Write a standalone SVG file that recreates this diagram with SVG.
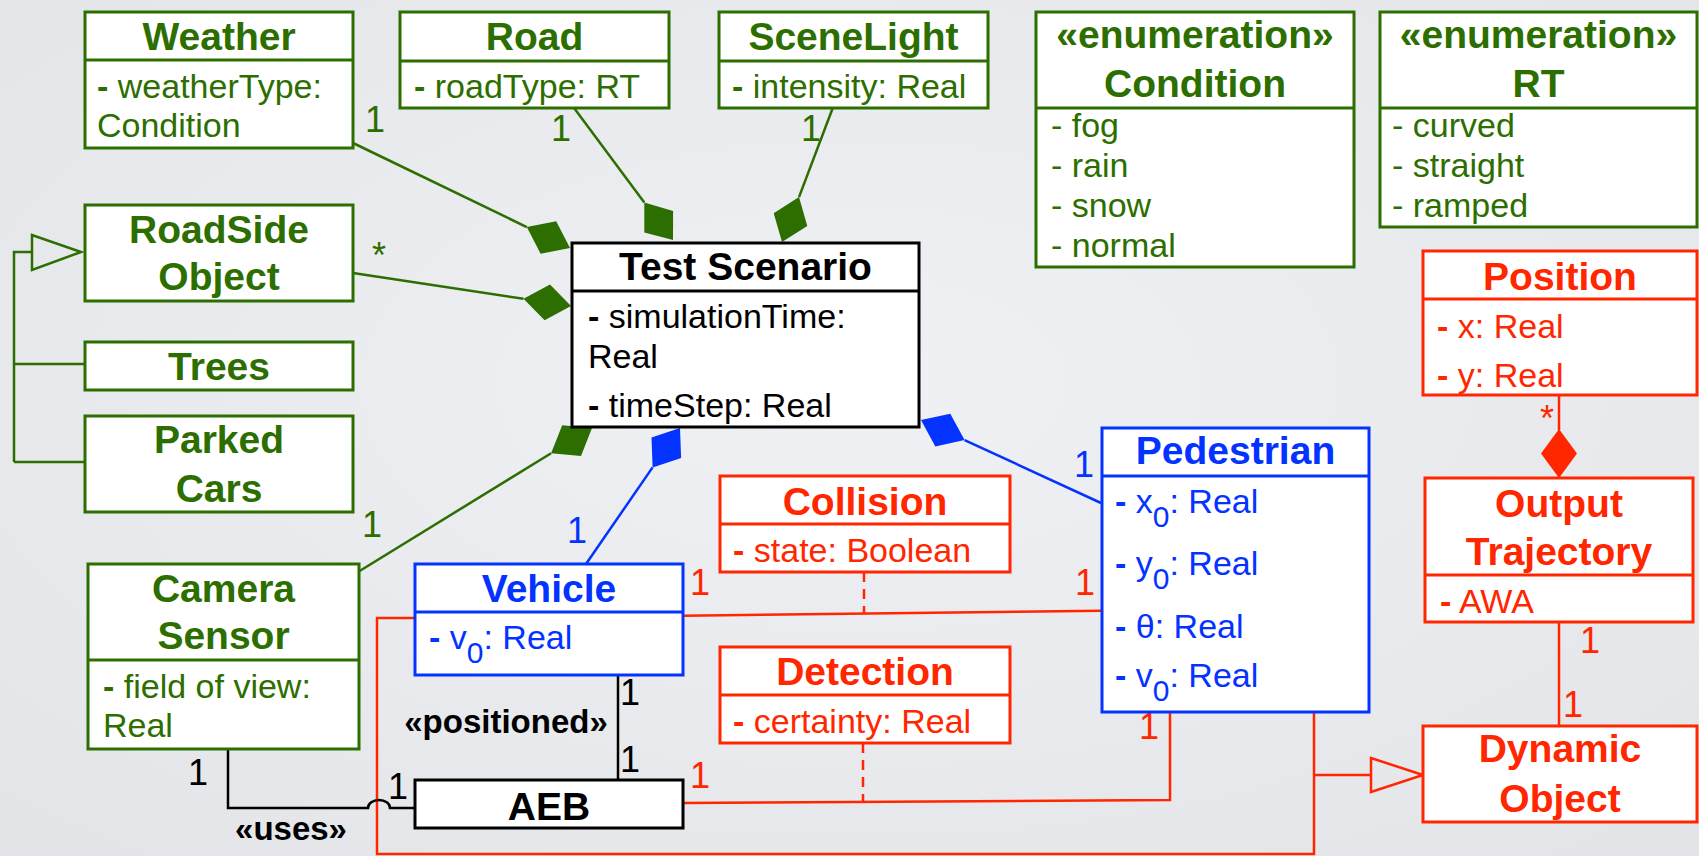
<svg xmlns="http://www.w3.org/2000/svg" width="1699" height="856" viewBox="0 0 1699 856">
  <style>
    .box{fill:#fff;stroke-width:3}
    .sep{stroke-width:3;fill:none}
    .g{stroke:#2d6e00}
    .r{stroke:#ff2600}
    .b{stroke:#0433ff}
    .k{stroke:#000}
    .tg{fill:#2d6e00}
    .tr{fill:#ff2600}
    .tb{fill:#0433ff}
    .tk{fill:#000}
    text{font-family:"Liberation Sans",Arial,Helvetica,sans-serif}
    .title{font-size:39px;font-weight:bold;text-anchor:middle}
    .attr{font-size:34px}
    .dash{font-weight:bold}
    .sub{font-size:30px}
    .mult{font-size:36px;text-anchor:middle}
    .st{font-size:33px;font-weight:bold;text-anchor:middle}
    .ln{fill:none;stroke-width:2.5}
    .dsh{fill:none;stroke-width:2.5;stroke-dasharray:10 7}
    .dia{stroke:none}
    .tri{fill:none;stroke-width:2.5}
  </style>
  <defs>
    <radialGradient id="bg" cx="50%" cy="45%" r="75%">
      <stop offset="0" stop-color="#f0f1f4"/>
      <stop offset="1" stop-color="#e2e4e8"/>
    </radialGradient>
  </defs>
  <rect width="1699" height="856" fill="url(#bg)"/>

  <!-- connectors -->
  <g id="connectors">
    <!-- green compositions into Test Scenario -->
    <path class="ln g" d="M353,143 L526.8,227.1"/>
    <polygon class="dia" fill="#2d6e00" points="570,248 556.2,221.3 526.8,227.1 540.6,253.7"/>
    <path class="ln g" d="M353,273 L523.5,298.8"/>
    <polygon class="dia" fill="#2d6e00" points="571,306 550,284.6 523.5,298.8 544.6,320.2"/>
    <path class="ln g" d="M572.6,106 L644.3,202.5"/>
    <polygon class="dia" fill="#2d6e00" points="673,240 673.1,210.9 644.3,202.5 644.3,232.4"/>
    <path class="ln g" d="M833.5,106 L799,197.1"/>
    <polygon class="dia" fill="#2d6e00" points="782,242 807.3,226 799,197.1 773.7,213.2"/>
    <path class="ln g" d="M358,572 L551.1,453.2"/>
    <polygon class="dia" fill="#2d6e00" points="592,428 581,455.9 551.1,453.2 562.2,425.3"/>
    <!-- roadside generalization -->
    <path class="ln g" d="M14,462 V252 H32 M14,364 H85 M14,462 H85"/>
    <polygon class="tri g" points="81,252 32,235 32,270"/>

    <!-- blue compositions -->
    <path class="ln b" d="M586,564 L652.6,467.4"/>
    <polygon class="dia" fill="#0433ff" points="680,428 681.1,458 652.6,467.4 651.5,437.4"/>
    <path class="ln b" d="M1101,503 L964.6,440.1"/>
    <polygon class="dia" fill="#0433ff" points="921,420 935.3,446.4 964.6,440.1 950.3,413.8"/>

    <!-- red associations -->
    <path class="ln r" d="M683,615.7 L1101,610.7"/>
    <path class="dsh r" d="M864,572 V613"/>
    <path class="ln r" d="M683,803 L1170,800 V703"/>
    <path class="dsh r" d="M863,743 V801"/>
    <path class="ln r" d="M415,618 H377 V854 H1314 V712 M1313,775 H1371"/>
    <polygon class="tri r" points="1423,775 1371,758 1371,792"/>
    <path class="ln r" d="M1559,395 V430 M1559,622 V726"/>
    <polygon class="dia" fill="#ff2600" points="1559,429 1541,453.5 1559,478 1577,453.5"/>

    <!-- black dependencies -->
    <path class="ln k" d="M618,673 V784"/>
    <path class="ln k" d="M228,749 V808 H368 A11 8 0 0 1 390 808 H415"/>

    <!-- multiplicities -->
    <g class="tg">
      <text class="mult" x="375" y="132">1</text>
      <text class="mult" x="561" y="141">1</text>
      <text class="mult" x="811" y="141">1</text>
      <text class="mult" x="379" y="268" font-size="32">*</text>
      <text class="mult" x="372" y="537">1</text>
    </g>
    <g class="tb">
      <text class="mult" x="577" y="543">1</text>
      <text class="mult" x="1084" y="477">1</text>
    </g>
    <g class="tr">
      <text class="mult" x="700" y="595">1</text>
      <text class="mult" x="1085" y="595">1</text>
      <text class="mult" x="700" y="788">1</text>
      <text class="mult" x="1149" y="739">1</text>
      <text class="mult" x="1590" y="653">1</text>
      <text class="mult" x="1573" y="717">1</text>
      <text class="mult" x="1547" y="431" font-size="32">*</text>
    </g>
    <g class="tk">
      <text class="mult" x="630" y="705">1</text>
      <text class="mult" x="630" y="772">1</text>
      <text class="mult" x="198" y="785">1</text>
      <text class="mult" x="398" y="799">1</text>
      <text class="st" x="506" y="733">«positioned»</text>
      <text class="st" x="291" y="840">«uses»</text>
    </g>
  </g>

  <!-- green context classes -->
  <g id="weather">
    <rect class="box g" x="85" y="12" width="268" height="136"/>
    <path class="sep g" d="M85,60 H353"/>
    <text class="title tg" x="219" y="50">Weather</text>
    <text class="attr tg" x="97" y="98"><tspan class="dash">-</tspan> weatherType:</text>
    <text class="attr tg" x="97" y="137">Condition</text>
  </g>
  <g id="road">
    <rect class="box g" x="400" y="12" width="269" height="96"/>
    <path class="sep g" d="M400,61 H669"/>
    <text class="title tg" x="534.5" y="50">Road</text>
    <text class="attr tg" x="414" y="98"><tspan class="dash">-</tspan> roadType: RT</text>
  </g>
  <g id="scenelight">
    <rect class="box g" x="719" y="12" width="269" height="96"/>
    <path class="sep g" d="M719,61 H988"/>
    <text class="title tg" x="853.5" y="50">SceneLight</text>
    <text class="attr tg" x="732" y="98"><tspan class="dash">-</tspan> intensity: Real</text>
  </g>
  <g id="condition">
    <rect class="box g" x="1036" y="12" width="318" height="255"/>
    <path class="sep g" d="M1036,108 H1354"/>
    <text class="title tg" x="1195" y="48">«enumeration»</text>
    <text class="title tg" x="1195" y="97">Condition</text>
    <text class="attr tg" x="1051" y="137">- fog</text>
    <text class="attr tg" x="1051" y="177">- rain</text>
    <text class="attr tg" x="1051" y="217">- snow</text>
    <text class="attr tg" x="1051" y="257">- normal</text>
  </g>
  <g id="rt">
    <rect class="box g" x="1380" y="12" width="317" height="215"/>
    <path class="sep g" d="M1380,108 H1697"/>
    <text class="title tg" x="1538.5" y="48">«enumeration»</text>
    <text class="title tg" x="1538.5" y="97">RT</text>
    <text class="attr tg" x="1392" y="137">- curved</text>
    <text class="attr tg" x="1392" y="177">- straight</text>
    <text class="attr tg" x="1392" y="217">- ramped</text>
  </g>
  <g id="roadside-object">
    <rect class="box g" x="85" y="205" width="268" height="96"/>
    <text class="title tg" x="219" y="243">RoadSide</text>
    <text class="title tg" x="219" y="290">Object</text>
  </g>
  <g id="trees">
    <rect class="box g" x="85" y="342" width="268" height="48"/>
    <text class="title tg" x="219" y="380">Trees</text>
  </g>
  <g id="parked-cars">
    <rect class="box g" x="85" y="416" width="268" height="96"/>
    <text class="title tg" x="219" y="453">Parked</text>
    <text class="title tg" x="219" y="502">Cars</text>
  </g>
  <g id="camera-sensor">
    <rect class="box g" x="88" y="564" width="271" height="185"/>
    <path class="sep g" d="M88,660 H359"/>
    <text class="title tg" x="223.5" y="602">Camera</text>
    <text class="title tg" x="223.5" y="649">Sensor</text>
    <text class="attr tg" x="103" y="698"><tspan class="dash">-</tspan> field of view:</text>
    <text class="attr tg" x="103" y="737">Real</text>
  </g>

  <!-- scenario root -->
  <g id="test-scenario">
    <rect class="box k" x="572" y="243" width="347" height="184"/>
    <path class="sep k" d="M572,291 H919"/>
    <text class="title tk" x="745.5" y="280">Test Scenario</text>
    <text class="attr tk" x="588" y="328"><tspan class="dash">-</tspan> simulationTime:</text>
    <text class="attr tk" x="588" y="368">Real</text>
    <text class="attr tk" x="588" y="417"><tspan class="dash">-</tspan> timeStep: Real</text>
  </g>

  <!-- actors -->
  <g id="vehicle">
    <rect class="box b" x="415" y="564" width="268" height="111"/>
    <path class="sep b" d="M415,612 H683"/>
    <text class="title tb" x="549" y="602">Vehicle</text>
    <text class="attr tb" x="429" y="649"><tspan class="dash">-</tspan> v<tspan class="sub" dy="14">0</tspan><tspan dy="-14">: Real</tspan></text>
  </g>
  <g id="aeb">
    <rect class="box k" x="415" y="780" width="268" height="48"/>
    <text class="title tk" x="549" y="820">AEB</text>
  </g>
  <g id="pedestrian">
    <rect class="box b" x="1102" y="428" width="267" height="284"/>
    <path class="sep b" d="M1102,476 H1369"/>
    <text class="title tb" x="1235.5" y="464">Pedestrian</text>
    <text class="attr tb" x="1115" y="513"><tspan class="dash">-</tspan> x<tspan class="sub" dy="14">0</tspan><tspan dy="-14">: Real</tspan></text>
    <text class="attr tb" x="1115" y="575"><tspan class="dash">-</tspan> y<tspan class="sub" dy="14">0</tspan><tspan dy="-14">: Real</tspan></text>
    <text class="attr tb" x="1115" y="638"><tspan class="dash">-</tspan> θ: Real</text>
    <text class="attr tb" x="1115" y="687"><tspan class="dash">-</tspan> v<tspan class="sub" dy="14">0</tspan><tspan dy="-14">: Real</tspan></text>
  </g>

  <!-- red outcome classes -->
  <g id="collision">
    <rect class="box r" x="720" y="476" width="290" height="96"/>
    <path class="sep r" d="M720,524 H1010"/>
    <text class="title tr" x="865" y="515">Collision</text>
    <text class="attr tr" x="733" y="562"><tspan class="dash">-</tspan> state: Boolean</text>
  </g>
  <g id="detection">
    <rect class="box r" x="720" y="647" width="290" height="96"/>
    <path class="sep r" d="M720,695 H1010"/>
    <text class="title tr" x="865" y="685">Detection</text>
    <text class="attr tr" x="733" y="733"><tspan class="dash">-</tspan> certainty: Real</text>
  </g>
  <g id="position">
    <rect class="box r" x="1423" y="251" width="274" height="144"/>
    <path class="sep r" d="M1423,299 H1697"/>
    <text class="title tr" x="1560" y="290">Position</text>
    <text class="attr tr" x="1437" y="338"><tspan class="dash">-</tspan> x: Real</text>
    <text class="attr tr" x="1437" y="387"><tspan class="dash">-</tspan> y: Real</text>
  </g>
  <g id="output-trajectory">
    <rect class="box r" x="1425" y="478" width="268" height="144"/>
    <path class="sep r" d="M1425,575 H1693"/>
    <text class="title tr" x="1559" y="517">Output</text>
    <text class="title tr" x="1559" y="565">Trajectory</text>
    <text class="attr tr" x="1440" y="613"><tspan class="dash">-</tspan> AWA</text>
  </g>
  <g id="dynamic-object">
    <rect class="box r" x="1423" y="726" width="274" height="96"/>
    <text class="title tr" x="1560" y="762">Dynamic</text>
    <text class="title tr" x="1560" y="812">Object</text>
  </g>
</svg>
